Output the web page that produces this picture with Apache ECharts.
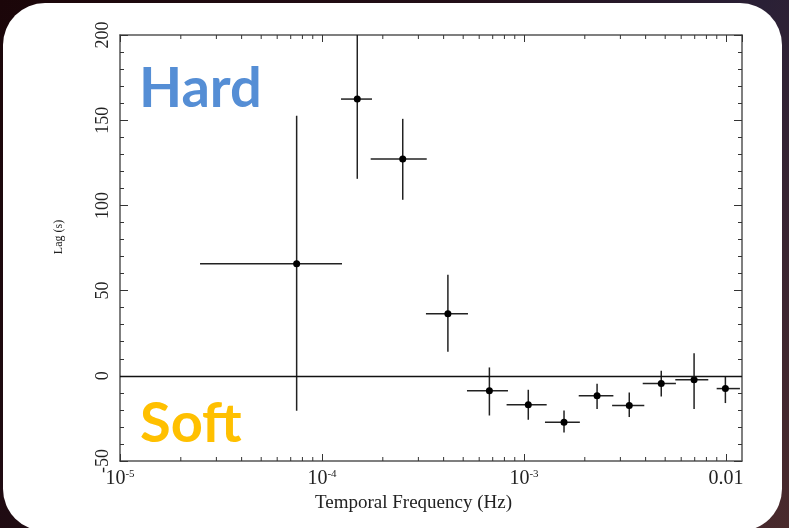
<!DOCTYPE html>
<html>
    <head>
        <meta charset="utf-8">
        <title>Lag vs Temporal Frequency</title>
        <script src="https://cdn.jsdelivr.net/npm/echarts@6/dist/echarts.min.js"></script>
        <style>
            html, body { margin: 0; padding: 0; }
            body {
                width: 789px; height: 528px; overflow: hidden; position: relative;
                background: linear-gradient(120deg, #1b0609 0%, #220e16 40%, #2a2036 70%, #4a2a2c 100%);
            }
            #panel {
                position: absolute; left: 3px; top: 3px; width: 779px; height: 528px;
                background: #fff; border-radius: 42px;
            }
            #chart1 { position: absolute; left: 0; top: 0; width: 789px; height: 528px; }
        </style>
    </head>
    <body>
        <div id="panel"></div>
        <div id="chart1"></div>
        <script>
            // 数据：频率 (Hz)、频率误差范围、时延 (s) 和误差范围
            var freq   = [7.49e-5, 1.495e-4, 2.51e-4, 4.2e-4, 6.74e-4, 1.05e-3, 1.578e-3, 2.30e-3, 3.32e-3, 4.78e-3, 6.95e-3, 9.93e-3];
            var freqLo = [2.49e-5, 1.242e-4, 1.742e-4, 3.27e-4, 5.22e-4, 8.2e-4, 1.27e-3, 1.866e-3, 2.73e-3, 3.87e-3, 5.61e-3, 8.99e-3];
            var freqHi = [1.256e-4, 1.768e-4, 3.30e-4, 5.28e-4, 8.33e-4, 1.295e-3, 1.89e-3, 2.77e-3, 3.94e-3, 5.65e-3, 8.17e-3, 1.172e-2];
            var lag    = [65.7, 162.4, 127.3, 36.4, -8.8, -17.0, -27.2, -11.7, -17.4, -4.5, -2.3, -7.5];
            var lagLo  = [-20.5, 115.6, 103.3, 14.1, -23.3, -25.8, -33.3, -19.5, -24.2, -12.1, -19.5, -16.0];
            var lagHi  = [152.6, 209, 150.8, 59.3, 4.9, -8.2, -20.4, -4.7, -9.8, 2.9, 13.3, -0.4];

            // 坐标轴
            var xMin = 1e-5, xMax = 0.012;
            var yMin = -50, yMax = 200, yStep = 50;

            var points = freq.map(function (f, i) {
                return [f, lag[i], freqLo[i], freqHi[i], lagLo[i], lagHi[i]];
            });

            // log 轴次刻度 2..9 × 10^n
            var minorTicks = [];
            for (var d = -5; d <= -2; d++) {
                for (var k = 2; k <= 9; k++) {
                    var v = k * Math.pow(10, d);
                    if (v < xMax) minorTicks.push([v, 0]);
                }
            }

            var serif = 'Liberation Serif';
            var axisColor = '#555';

            function logLabel(v) {
                var e = Math.round(Math.log10(v));
                if (Math.abs(Math.log10(v) - e) > 1e-6) return '';
                if (e === -2) return '{b|0.01}';
                return '{b|10}{s|-' + (-e) + '}';
            }

            var frameLine = { onZero: false, lineStyle: { color: axisColor, width: 1.5 } };

            var myChart1 = echarts.init(document.getElementById('chart1'));
            myChart1.setOption({
                animation: false,
                textStyle: { fontFamily: serif },
                grid: { left: 120, top: 35, right: 47, bottom: 67 },
                xAxis: [
                    {
                        type: 'log', logBase: 10, min: xMin, max: xMax, interval: 1,
                        name: 'Temporal Frequency (Hz)', nameLocation: 'middle', nameGap: 27,
                        nameTextStyle: { fontFamily: serif, fontSize: 19, color: '#222', padding: [0, 35, 0, 0] },
                        axisLine: frameLine,
                        axisTick: { inside: true, length: 7, lineStyle: { color: '#333' } },
                        splitLine: { show: false },
                        axisLabel: {
                            margin: 8, color: '#222', formatter: logLabel, showMaxLabel: false,
                            rich: {
                                b: { fontFamily: serif, fontSize: 20, color: '#222', verticalAlign: 'bottom' },
                                s: { fontFamily: serif, fontSize: 11, color: '#222', verticalAlign: 'top' }
                            }
                        }
                    },
                    {
                        type: 'log', logBase: 10, min: xMin, max: xMax, interval: 1, position: 'top',
                        axisLine: frameLine,
                        axisTick: { inside: true, length: 7, lineStyle: { color: '#333' } },
                        axisLabel: { show: false },
                        splitLine: { show: false }
                    }
                ],
                yAxis: [
                    {
                        type: 'value', min: yMin, max: yMax, interval: yStep,
                        name: 'Lag (s)', nameLocation: 'middle', nameGap: 55,
                        nameTextStyle: { fontFamily: serif, fontSize: 12, color: '#222', padding: [0, 0, 0, 22] },
                        axisLine: frameLine,
                        axisTick: { inside: true, length: 8, lineStyle: { color: '#333' } },
                        minorTick: { show: true, splitNumber: 5, length: 4, lineStyle: { color: '#333' } },
                        splitLine: { show: false },
                        axisLabel: { rotate: 90, margin: 8, fontFamily: serif, fontSize: 18, color: '#222' }
                    },
                    {
                        type: 'value', min: yMin, max: yMax, interval: yStep, position: 'right',
                        axisLine: frameLine,
                        axisTick: { inside: true, length: 8, lineStyle: { color: '#333' } },
                        minorTick: { show: true, splitNumber: 5, length: 4, lineStyle: { color: '#333' } },
                        splitLine: { show: false },
                        axisLabel: { show: false }
                    }
                ],
                graphic: [
                    { type: 'text', left: 139, top: 61, z: 10,
                      style: { text: 'Hard', font: 'bold 56px Lato', fill: '#558ED5' } },
                    { type: 'text', left: 140, top: 396, z: 10,
                      style: { text: 'Soft', font: 'bold 56px Lato', fill: '#FFC000' } }
                ],
                series: [
                    {
                        // 对数轴次刻度（上下两边）
                        type: 'custom', silent: true, data: minorTicks,
                        encode: { x: 0, y: 1 },
                        renderItem: function (params, api) {
                            var cs = params.coordSys;
                            var x = api.coord([api.value(0), 0])[0];
                            var st = { stroke: '#333', lineWidth: 1 };
                            return { type: 'group', children: [
                                { type: 'line', shape: { x1: x, y1: cs.y + cs.height, x2: x, y2: cs.y + cs.height - 4 }, style: st },
                                { type: 'line', shape: { x1: x, y1: cs.y, x2: x, y2: cs.y + 4 }, style: st }
                            ] };
                        }
                    },
                    {
                        // 误差棒 + 数据点
                        name: 'Lag', type: 'custom', data: points,
                        encode: { x: [0, 2, 3], y: [1, 4, 5] },
                        renderItem: function (params, api) {
                            var cs = params.coordSys;
                            var c = api.coord([api.value(0), api.value(1)]);
                            var xl = api.coord([api.value(2), api.value(1)])[0];
                            var xr = api.coord([api.value(3), api.value(1)])[0];
                            var yb = Math.min(api.coord([api.value(0), api.value(4)])[1], cs.y + cs.height);
                            var yt = Math.max(api.coord([api.value(0), api.value(5)])[1], cs.y);
                            var st = { stroke: '#222', lineWidth: 1.5 };
                            return { type: 'group', children: [
                                { type: 'line', shape: { x1: xl, y1: c[1], x2: xr, y2: c[1] }, style: st },
                                { type: 'line', shape: { x1: c[0], y1: yb, x2: c[0], y2: yt }, style: st },
                                { type: 'circle', shape: { cx: c[0], cy: c[1], r: 3.5 }, style: { fill: '#000' } }
                            ] };
                        },
                        markLine: {
                            silent: true, symbol: 'none', label: { show: false },
                            lineStyle: { color: '#111', width: 1.3, type: 'solid' },
                            data: [{ yAxis: 0 }]
                        }
                    }
                ]
            });
        </script>
    </body>
</html>
